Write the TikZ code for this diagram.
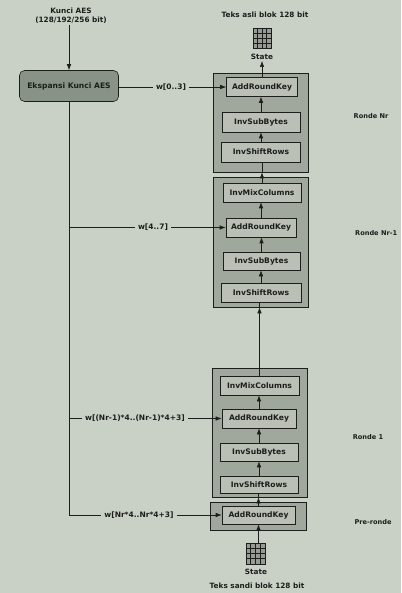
\documentclass[tikz,border=0pt]{standalone}
\usepackage{fontspec}
\setmainfont{DejaVu Sans}
\usetikzlibrary{arrows.meta,calc}
\definecolor{bg}{RGB}{201,208,198}
\definecolor{outerc}{RGB}{160,167,157}
\definecolor{innerc}{RGB}{186,192,182}
\definecolor{ekspc}{RGB}{136,146,134}
\definecolor{gridc}{RGB}{150,156,148}
\definecolor{ink}{RGB}{28,30,28}
\begin{document}
\begin{tikzpicture}[x=1pt,y=-1pt,
  every node/.style={text=ink},
  txt/.style={font=\bfseries\fontsize{7.3}{9}\selectfont, inner sep=1pt},
  rlbl/.style={font=\bfseries\fontsize{6.6}{8}\selectfont, inner sep=1pt},
  outerbox/.style={draw=ink, fill=outerc, line width=0.6pt, inner sep=0pt},
  opbox/.style={draw=ink, fill=innerc, line width=0.6pt, inner sep=0pt, minimum height=19pt,
    font=\bfseries\fontsize{7.6}{9}\selectfont},
  eksbox/.style={draw=ink, fill=ekspc, line width=0.6pt, rounded corners=5pt, inner sep=0pt,
    minimum width=99pt, minimum height=31pt, font=\bfseries\fontsize{7.6}{9}\selectfont},
  wlbl/.style={fill=bg, inner sep=3pt, font=\bfseries\fontsize{7.5}{9}\selectfont},
  gridbox/.style={draw=ink, fill=gridc, line width=0.5pt, inner sep=0pt, minimum width=18pt, minimum height=20pt},
  ln/.style={draw=ink, line width=0.6pt},
  arr/.style={ln, -{Latex[length=6pt,width=4.5pt]}}
]
\useasboundingbox[fill=bg] (0,0) rectangle (401,593);

% key input and expansion
\node[txt, align=center] (kunci) at (71,16) {Kunci AES\\(128/192/256 bit)};
\node[eksbox] (eksp) at (69,86) {Ekspansi Kunci AES};
\draw[arr] (kunci.south -| eksp.north) -- (eksp.north);

% top state
\node[txt] (tasli) at (265,15) {Teks asli blok 128 bit};
\node[gridbox] (gtop) at (262,38) {};
\foreach \i in {1,2,3} {
  \draw[ink, line width=0.4pt] ($(gtop.north west)+(4.5*\i,0)$) -- ($(gtop.south west)+(4.5*\i,0)$);
  \draw[ink, line width=0.4pt] ($(gtop.north west)+(0,5*\i)$) -- ($(gtop.north east)+(0,5*\i)$);
}
\node[txt] (stop) at (262,57) {State};

% Round Nr
\node[outerbox, minimum width=95pt, minimum height=99pt] (rNr) at (260.5,122.5) {};
\node[opbox, minimum width=71pt] (ark1) at (262,87) {AddRoundKey};
\node[opbox, minimum width=78pt, minimum height=20pt] (isb1) at (261,122) {InvSubBytes};
\node[opbox, minimum width=79pt, minimum height=20pt] (isr1) at (261,152) {InvShiftRows};

% Round Nr-1
\node[outerbox, minimum width=95pt, minimum height=130pt] (rNm) at (260.5,242) {};
\node[opbox, minimum width=78pt] (imc2) at (262,192.5) {InvMixColumns};
\node[opbox, minimum width=70pt] (ark2) at (261,227.5) {AddRoundKey};
\node[opbox, minimum width=77pt, minimum height=18pt] (isb2) at (261.5,261) {InvSubBytes};
\node[opbox, minimum width=80pt] (isr2) at (261,292.5) {InvShiftRows};

% Round 1
\node[outerbox, minimum width=95pt, minimum height=129pt] (r1) at (259.5,432.5) {};
\node[opbox, minimum width=79pt] (imc3) at (259.5,385.5) {InvMixColumns};
\node[opbox, minimum width=74pt] (ark3) at (259,418.5) {AddRoundKey};
\node[opbox, minimum width=78pt, minimum height=18pt] (isb3) at (259,452) {InvSubBytes};
\node[opbox, minimum width=78pt, minimum height=17pt] (isr3) at (259,484.5) {InvShiftRows};

% Pre-round
\node[outerbox, minimum width=96pt, minimum height=28pt] (r0) at (258,516) {};
\node[opbox, minimum width=73pt, minimum height=18pt] (ark4) at (258.5,515) {AddRoundKey};

% bottom state
\node[gridbox, minimum width=19pt, minimum height=21pt] (gbot) at (255.5,553.5) {};
\foreach \i in {1,2,3} {
  \draw[ink, line width=0.4pt] ($(gbot.north west)+(4.75*\i,0)$) -- ($(gbot.south west)+(4.75*\i,0)$);
  \draw[ink, line width=0.4pt] ($(gbot.north west)+(0,5.25*\i)$) -- ($(gbot.north east)+(0,5.25*\i)$);
}
\node[txt] (sbot) at (256,572) {State};
\node[txt] (tsandi) at (257,586) {Teks sandi blok 128 bit};

% data-flow arrows (upwards)
\draw[arr] (ark4.south |- gbot.north) -- (ark4.south);
\draw[arr] (ark4.north) -- (ark4.north |- r1.south);
\draw[ln] (ark4.north |- r1.south) -- (ark4.north |- isr3.south);
\draw[arr] (isr3.north) -- (isr3.north |- isb3.south);
\draw[arr] (isb3.north) -- (isb3.north |- ark3.south);
\draw[arr] (ark3.north) -- (ark3.north |- imc3.south);
\draw[ln] (imc3.north) -- (imc3.north |- r1.north);
\draw[arr] (imc3.north |- r1.north) -- (imc3.north |- rNm.south);
\draw[ln] (imc3.north |- rNm.south) -- (imc3.north |- isr2.south);
\draw[arr] (isr2.north) -- (isr2.north |- isb2.south);
\draw[arr] (isb2.north) -- (isb2.north |- ark2.south);
\draw[arr] (ark2.north) -- (ark2.north |- imc2.south);
\draw[ln] (imc2.north) -- (imc2.north |- rNm.north);
\draw[arr] (imc2.north |- rNm.north) -- (imc2.north |- rNr.south);
\draw[ln] (imc2.north |- rNr.south) -- (imc2.north |- isr1.south);
\draw[arr] (isr1.north) -- (isr1.north |- isb1.south);
\draw[arr] (isb1.north) -- (isb1.north |- ark1.south);
\draw[ln] (ark1.north) -- (ark1.north |- rNr.north);
\draw[arr] (ark1.north |- rNr.north) -- (ark1.north |- stop.south);

% round keys
\draw[ln] (eksp.south) -- (eksp.south |- ark4.west);
\draw[arr] (eksp.east |- ark1.west) -- (ark1.west);
\draw[arr] (eksp.south |- ark2.west) -- (ark2.west);
\draw[arr] (eksp.south |- ark3.west) -- (ark3.west);
\draw[arr] (eksp.south |- ark4.west) -- (ark4.west);
\node[wlbl] (w1) at (171,87) {w[0..3]};
\node[wlbl] (w2) at (153,227.5) {w[4..7]};
\node[wlbl] (w3) at (135,418.5) {w[(Nr-1)*4..(Nr-1)*4+3]};
\node[wlbl] (w4) at (139,515) {w[Nr*4..Nr*4+3]};

% round labels
\node[rlbl] (lNr) at (371,116) {Ronde Nr};
\node[rlbl, anchor=west] (lNm) at (354,233) {Ronde Nr-1};
\node[rlbl] (l1) at (368,437) {Ronde 1};
\node[rlbl] (l0) at (373,522) {Pre-ronde};
\end{tikzpicture}
\end{document}
